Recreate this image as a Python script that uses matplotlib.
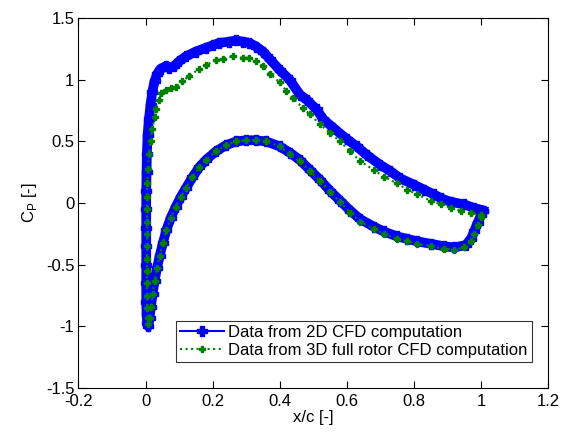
import matplotlib
matplotlib.use("Agg")
import matplotlib.pyplot as plt

plt.rcParams['font.family'] = ['Liberation Sans', 'DejaVu Sans']

# ---- 2D CFD (blue) : TE upper -> LE -> TE lower ----
x2d = [1.005, 0.98, 0.95, 0.91, 0.88, 0.86, 0.83, 0.80, 0.76, 0.73, 0.70, 0.66, 0.63,
       0.60, 0.56, 0.53, 0.51, 0.48, 0.46, 0.43, 0.40, 0.37, 0.35, 0.33, 0.31, 0.29,
       0.27, 0.25, 0.22, 0.20, 0.18, 0.15, 0.12, 0.10, 0.085, 0.07, 0.06, 0.045, 0.035,
       0.027, 0.020, 0.015, 0.010, 0.006, 0.004, 0.003, 0.002, 0.002, 0.002, 0.002,
       0.002, 0.002, 0.002, 0.003, 0.005, 0.008,
       0.012, 0.016, 0.021, 0.027, 0.034, 0.042, 0.052, 0.062, 0.075, 0.09, 0.105,
       0.12, 0.14, 0.16, 0.18, 0.21, 0.24, 0.27, 0.30, 0.33, 0.36, 0.40, 0.43, 0.46,
       0.49, 0.52, 0.55, 0.58, 0.61, 0.64, 0.68, 0.71, 0.75, 0.78, 0.81, 0.85, 0.89,
       0.92, 0.955, 0.97, 0.98, 0.99, 1.00, 1.005]
y2d = [-0.06, -0.04, -0.01, 0.01, 0.04, 0.07, 0.11, 0.15, 0.20, 0.26, 0.31, 0.39, 0.46,
       0.52, 0.61, 0.68, 0.76, 0.84, 0.88, 1.00, 1.08, 1.17, 1.23, 1.27, 1.30, 1.31,
       1.32, 1.31, 1.30, 1.28, 1.26, 1.23, 1.19, 1.15, 1.11, 1.10, 1.11, 1.09, 1.05,
       0.99, 0.90, 0.80, 0.68, 0.55, 0.40, 0.25, 0.10, -0.05, -0.20, -0.35,
       -0.50, -0.65, -0.80, -0.90, -0.97, -1.00,
       -0.93, -0.84, -0.74, -0.63, -0.53, -0.43, -0.32, -0.22, -0.12, -0.03, 0.05,
       0.12, 0.21, 0.29, 0.35, 0.42, 0.47, 0.50, 0.51, 0.51, 0.50, 0.46, 0.41, 0.35,
       0.27, 0.19, 0.10, 0.02, -0.06, -0.13, -0.19, -0.23, -0.27, -0.29, -0.31, -0.33,
       -0.35, -0.36, -0.34, -0.29, -0.23, -0.16, -0.10, -0.06]

# ---- 3D full rotor CFD (green) ----
x3d = [1.00, 0.97, 0.94, 0.91, 0.88, 0.85, 0.81, 0.78, 0.75, 0.71, 0.68, 0.64, 0.61,
       0.58, 0.55, 0.52, 0.49, 0.47, 0.44, 0.42, 0.40, 0.37, 0.35, 0.33, 0.31, 0.29,
       0.26, 0.23, 0.21, 0.18, 0.16, 0.13, 0.11, 0.09, 0.075, 0.06, 0.047, 0.040,
       0.032, 0.027, 0.020, 0.015, 0.010, 0.007, 0.005, 0.004, 0.004, 0.004, 0.004,
       0.004, 0.004, 0.004, 0.004, 0.004, 0.005, 0.006, 0.008,
       0.012, 0.016, 0.021, 0.027, 0.034, 0.042, 0.052, 0.062, 0.075, 0.09, 0.105,
       0.12, 0.14, 0.16, 0.18, 0.21, 0.24, 0.27, 0.30, 0.33, 0.36, 0.40, 0.43, 0.46,
       0.49, 0.52, 0.55, 0.58, 0.61, 0.64, 0.68, 0.71, 0.75, 0.78, 0.81, 0.85, 0.89,
       0.92, 0.95, 0.97, 0.98, 0.99, 1.00]
y3d = [-0.10, -0.08, -0.06, -0.04, -0.01, 0.02, 0.07, 0.11, 0.16, 0.215, 0.27, 0.34, 0.42,
       0.50, 0.57, 0.64, 0.72, 0.77, 0.85, 0.91, 0.98, 1.05, 1.11, 1.15, 1.18, 1.18,
       1.19, 1.17, 1.16, 1.12, 1.09, 1.03, 0.99, 0.94, 0.93, 0.92, 0.89, 0.84,
       0.76, 0.70, 0.60, 0.50, 0.40, 0.28, 0.16, 0.05, -0.05, -0.15, -0.25,
       -0.35, -0.45, -0.55, -0.65, -0.75, -0.85, -0.93, -0.98,
       -0.93, -0.84, -0.74, -0.63, -0.53, -0.43, -0.32, -0.22, -0.12, -0.03, 0.05,
       0.12, 0.21, 0.29, 0.35, 0.42, 0.47, 0.50, 0.51, 0.51, 0.50, 0.46, 0.40, 0.34,
       0.26, 0.18, 0.09, 0.01, -0.08, -0.15, -0.21, -0.25, -0.29, -0.31, -0.33, -0.35,
       -0.37, -0.38, -0.36, -0.31, -0.25, -0.18, -0.11]

xticks = [-0.2, 0, 0.2, 0.4, 0.6, 0.8, 1, 1.2]
xticklabels = ['-0.2', '0', '0.2', '0.4', '0.6', '0.8', '1', '1.2']
yticks = [-1.5, -1, -0.5, 0, 0.5, 1, 1.5]
yticklabels = ['-1.5', '-1', '-0.5', '0', '0.5', '1', '1.5']

fig = plt.figure(figsize=(5.67, 4.34), dpi=100)
ax = fig.add_axes([0.1384, 0.106, 0.828, 0.852])

blue = '#0000ff'
green = '#008000'

# thick band for the dense 2D markers
ax.plot(x2d, y2d, color=blue, lw=7, solid_joinstyle='round', zorder=2)
ax.plot(x2d, y2d, color=blue, lw=1.5, marker='P', markersize=7.5,
        label='Data from 2D CFD computation', zorder=3)
ax.plot(x3d, y3d, color=green, lw=1.5, linestyle=':', marker='P', markersize=4.5,
        label='Data from 3D full rotor CFD computation', zorder=4)

ax.set_xlim(-0.2, 1.2)
ax.set_ylim(-1.5, 1.5)
ax.set_xticks(xticks)
ax.set_xticklabels(xticklabels)
ax.set_yticks(yticks)
ax.set_yticklabels(yticklabels)
ax.tick_params(direction='in', top=True, right=True, length=5, width=0.8,
               labelsize=12)
ax.tick_params(axis='x', pad=4)
ax.tick_params(axis='y', pad=3)
for s in ax.spines.values():
    s.set_linewidth(0.8)

ax.set_xlabel('x/c [-]', fontsize=12, labelpad=1)
ax.set_ylabel('C$_\\mathregular{P}$ [-]', fontsize=12, labelpad=5)

leg = ax.legend(loc='lower right', bbox_to_anchor=(0.965, 0.071), fontsize=12,
                frameon=True, fancybox=False, edgecolor='black', handlelength=2.6,
                borderpad=0.25, labelspacing=0.15, handletextpad=0.25, borderaxespad=0,
                handleheight=0.6)
leg.get_frame().set_linewidth(0.8)

fig.savefig('out.png', dpi=100)
